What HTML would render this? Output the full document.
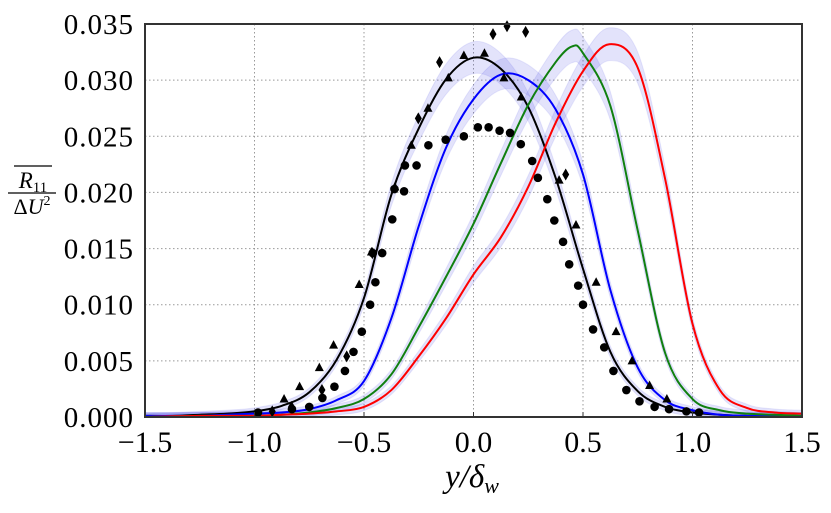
<!DOCTYPE html>
<html><head><meta charset="utf-8">
<style>
body{margin:0;background:#fff;width:831px;height:508px;overflow:hidden}
svg text{font-family:"Liberation Serif",serif;fill:#000}
</style></head>
<body>
<svg id="chart" width="831" height="508" viewBox="0 0 831 508" xmlns="http://www.w3.org/2000/svg">
<g id="grid"></g>
<g id="bands"></g>
<g id="lines"></g>
<g id="marks"></g>
<rect x="145" y="24" width="657" height="393" fill="none" stroke="#333" stroke-width="2"/>
<g id="ticks"></g>
<text x="472" y="487" text-anchor="middle" font-size="33" font-style="italic">y/δ<tspan font-size="22" dy="6">w</tspan></text>
<g>
<line x1="14" y1="166" x2="52" y2="166" stroke="#000" stroke-width="1.3"/>
<text x="33" y="188" text-anchor="middle" font-size="23" font-style="italic">R<tspan font-size="15" dy="4" font-style="normal">11</tspan></text>
<line x1="8" y1="193" x2="56" y2="193" stroke="#000" stroke-width="1.3"/>
<text x="32" y="214" text-anchor="middle" font-size="22"><tspan font-style="normal">Δ</tspan><tspan font-style="italic">U</tspan><tspan font-size="14" dy="-9">2</tspan></text>
</g>
</svg>
<script>
const xTicks=[-1.5,-1.0,-0.5,0.0,0.5,1.0,1.5];
const xTickLabels=["−1.5","−1.0","−0.5","0.0","0.5","1.0","1.5"];
const yTicks=[0,0.005,0.010,0.015,0.020,0.025,0.030,0.035];
const yTickLabels=["0.000","0.005","0.010","0.015","0.020","0.025","0.030","0.035"];
const gridX=[-1.0,-0.5,0.0,0.5,1.0];
const gridY=[0.005,0.010,0.015,0.020,0.025,0.030];
const blackX=[-1.5,-1.375,-1.25,-1.125,-1.0,-0.875,-0.75,-0.625,-0.5,-0.375,-0.25,-0.125,0,0.125,0.25,0.375,0.5,0.625,0.75,0.875,1.0,1.125,1.25,1.375,1.5];
const blackY=[.0001,.0001,.0002,.0003,.0005,.0010,.0022,.0051,.0106,.0198,.0257,.0301,.0320,.0310,.0276,.0213,.0132,.0058,.0023,.0009,.0004,.0002,.0001,.0001,.0000];
const blueX=blackX;
const blueY=[.0001,.0001,.0001,.0002,.0003,.0004,.0007,.0015,.0032,.0088,.0170,.0240,.0283,.0305,.0300,.0274,.0216,.0113,.0044,.0015,.0006,.0002,.0001,.0001,.0001];
const greenX=[-1.5,-1.25,-1.0,-0.875,-0.75,-0.625,-0.5,-0.375,-0.25,-0.125,0,0.125,0.25,0.375,0.45,0.5,0.625,0.75,0.875,1.0,1.125,1.25,1.375,1.5];
const greenY=[0,.0001,.0001,.0002,.0004,.0008,.0016,.0038,.0080,.0125,.0172,.0226,.0278,.0316,.0330,.0324,.0277,.0166,.0057,.0016,.0006,.0003,.0002,.0001];
const redX=[-1.5,-1.25,-1.0,-0.875,-0.75,-0.625,-0.5,-0.375,-0.25,-0.125,0,0.125,0.25,0.375,0.5,0.62,0.75,0.875,1.0,1.125,1.25,1.375,1.5];
const redY=[0,.0001,.0001,.0002,.0003,.0005,.0009,.0024,.0054,.0088,.0127,.0160,.0205,.0262,.0308,.0332,.0311,.0212,.0083,.0024,.0008,.0004,.0003];
const circX=[-0.984,-0.829,-0.750,-0.690,-0.635,-0.587,-0.548,-0.510,-0.472,-0.448,-0.460,-0.417,-0.371,-0.317,-0.361,-0.313,-0.260,-0.206,-0.127,-0.044,0.020,0.069,0.119,0.167,0.216,0.268,0.294,0.337,0.369,0.409,0.437,0.478,0.500,0.546,0.597,0.639,0.698,0.758,0.827,0.893,0.972,1.030];
const circY=[.0004,.0007,.0009,.0017,.0027,.0041,.0058,.0076,.0100,.0120,.0146,.0146,.0176,.0201,.0203,.0224,.0224,.0242,.0247,.0250,.0258,.0258,.0255,.0253,.0243,.0228,.0213,.0194,.0175,.0156,.0136,.0117,.0100,.0078,.0062,.0041,.0024,.0014,.0009,.0007,.0005,.0004];
const triX=[-0.865,-0.794,-0.704,-0.639,-0.522,-0.466,-0.359,-0.284,-0.208,-0.115,-0.044,0.050,0.139,0.218,0.391,0.468,0.560,0.651,0.724,0.804,0.883];
const triY=[.0016,.0027,.0044,.0064,.0118,.0147,.0205,.0242,.0275,.0302,.0322,.0324,.0302,.0285,.0211,.0171,.0120,.0076,.0050,.0028,.0016];
const diaX=[-0.919,-0.831,-0.692,-0.579,-0.462,-0.252,-0.155,0.089,0.153,0.238,0.421];
const diaY=[.0005,.0009,.0024,.0054,.0146,.0266,.0316,.0341,.0348,.0343,.0216];

const NS="http://www.w3.org/2000/svg";
const X0=145,X1=802,Y0=417,Y1=24;
function sx(v){return X0+(v+1.5)/3*(X1-X0);}
function sy(v){return Y0-v/0.035*(Y0-Y1);}
function mk(tag,attrs,parent){const e=document.createElementNS(NS,tag);for(const k in attrs)e.setAttribute(k,attrs[k]);parent.appendChild(e);return e;}
function smooth(pts){
  let d="M"+pts[0][0].toFixed(2)+","+pts[0][1].toFixed(2);
  for(let i=0;i<pts.length-1;i++){
    const p0=pts[Math.max(0,i-1)],p1=pts[i],p2=pts[i+1],p3=pts[Math.min(pts.length-1,i+2)];
    const c1=[p1[0]+(p2[0]-p0[0])/6,p1[1]+(p2[1]-p0[1])/6];
    const c2=[p2[0]-(p3[0]-p1[0])/6,p2[1]-(p3[1]-p1[1])/6];
    d+="C"+c1[0].toFixed(2)+","+c1[1].toFixed(2)+" "+c2[0].toFixed(2)+","+c2[1].toFixed(2)+" "+p2[0].toFixed(2)+","+p2[1].toFixed(2);
  }
  return d;
}
const grid=document.getElementById('grid');
gridX.forEach(v=>{const l=mk('line',{x1:sx(v),x2:sx(v),y1:Y1,y2:Y0,stroke:'#999','stroke-width':1,'stroke-dasharray':'1.5,2.5'},grid);

});
gridY.forEach(v=>{const l=mk('line',{x1:X0,x2:X1,y1:sy(v),y2:sy(v),stroke:'#999','stroke-width':1,'stroke-dasharray':'1.5,2.5'},grid);

});

const series=[["black",blackX,blackY,"#000"],["blue",blueX,blueY,"#0000ff"],["green",greenX,greenY,"#108010"],["red",redX,redY,"#ff0000"]];
const bands=document.getElementById('bands'),lines=document.getElementById('lines');
series.forEach(s=>{
  const xs=s[1],ys=s[2];
  const up=xs.map((x,i)=>[sx(x),sy(ys[i]+0.0003+0.035*ys[i])]);
  const lo=xs.map((x,i)=>[sx(x),sy(Math.max(0,ys[i]-0.0003-0.035*ys[i]))]).reverse();
  const d=smooth(up)+"L"+smooth(lo).slice(1)+"Z";
  const b=mk('path',{d:d,fill:'rgba(90,90,230,0.17)',stroke:'rgba(90,90,230,0.12)'},bands);
  
  
});
series.forEach(s=>{
  const pts=s[1].map((x,i)=>[sx(x),sy(s[2][i])]);
  const p=mk('path',{d:smooth(pts),fill:'none',stroke:s[3],'stroke-width':2},lines);
  
  
});
const marks=document.getElementById('marks');
circX.forEach((x,i)=>{const c=mk('circle',{cx:sx(x),cy:sy(circY[i]),r:4.3,fill:'#000'},marks);

});
triX.forEach((x,i)=>{const cx=sx(x),cy=sy(triY[i]);
const t=mk('polygon',{points:`${cx},${cy-5} ${cx-4.5},${cy+3.5} ${cx+4.5},${cy+3.5}`,fill:'#000'},marks);

});
diaX.forEach((x,i)=>{const cx=sx(x),cy=sy(diaY[i]);
const t=mk('polygon',{points:`${cx},${cy-6} ${cx-3.5},${cy} ${cx},${cy+6} ${cx+3.5},${cy}`,fill:'#000'},marks);

});
const ticks=document.getElementById('ticks');
xTicks.forEach((v,i)=>{const t=mk('text',{x:sx(v),y:452,'text-anchor':'middle','font-size':30},ticks);t.textContent=xTickLabels[i];


const tk=mk('line',{x1:sx(v),x2:sx(v),y1:Y0,y2:Y0-5,stroke:'#333'},ticks);

});
yTicks.forEach((v,i)=>{const t=mk('text',{x:134,y:sy(v)+10,'text-anchor':'end','font-size':29,'letter-spacing':'1'},ticks);t.textContent=yTickLabels[i];

});
</script>
</body></html>
